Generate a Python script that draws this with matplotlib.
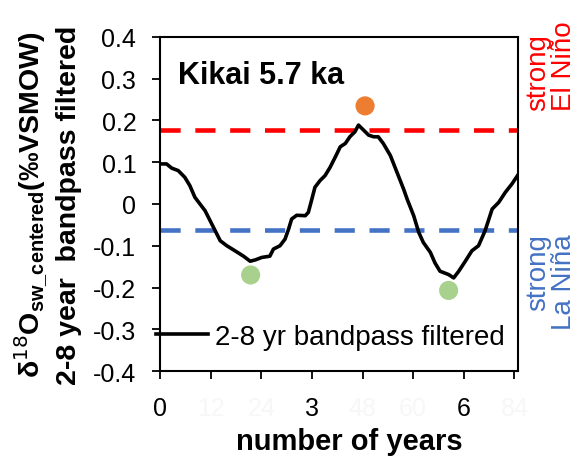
import matplotlib
matplotlib.use("Agg")
import matplotlib.pyplot as plt

plt.rcParams['font.family'] = ['Liberation Sans', 'DejaVu Sans']

# 2-8 yr bandpass filtered d18O_sw (centered), Kikai 5.7 ka
years = [0.03, 0.13, 0.23, 0.36, 0.49, 0.59, 0.69, 0.79, 0.89, 0.99, 1.09, 1.19,
         1.32, 1.48, 1.65, 1.78, 1.88, 2.01, 2.17, 2.24, 2.37, 2.47, 2.54, 2.60,
         2.70, 2.87, 2.93, 3.00, 3.06, 3.16, 3.26, 3.36, 3.46, 3.56, 3.66, 3.75,
         3.85, 3.92, 4.02, 4.12, 4.22, 4.31, 4.41, 4.55, 4.68, 4.81, 4.88, 5.01,
         5.11, 5.20, 5.34, 5.43, 5.53, 5.70, 5.80, 5.90, 6.03, 6.16, 6.29, 6.42,
         6.56, 6.69, 6.82, 6.95, 7.06]
d18o_filtered = [0.096, 0.096, 0.086, 0.080, 0.064, 0.044, 0.016, 0.000, -0.016, -0.040,
                 -0.064, -0.088, -0.100, -0.112, -0.125, -0.137, -0.134, -0.128, -0.125,
                 -0.108, -0.100, -0.084, -0.060, -0.036, -0.027, -0.028, -0.020, 0.012,
                 0.040, 0.056, 0.068, 0.088, 0.112, 0.137, 0.145, 0.161, 0.173, 0.189,
                 0.177, 0.165, 0.161, 0.161, 0.145, 0.116, 0.076, 0.036, 0.012, -0.028,
                 -0.068, -0.092, -0.116, -0.141, -0.161, -0.169, -0.177, -0.161, -0.137,
                 -0.112, -0.100, -0.064, -0.012, 0.004, 0.028, 0.048, 0.068]

# marked extreme events
elnino_x = [4.05]
elnino_y = [0.235]
lanina_x = [1.79, 5.70]
lanina_y = [-0.170, -0.207]

# thresholds for strong events
strong_elnino = 0.178
strong_lanina = -0.063

x_ticks = [0, 1, 2, 3, 4, 5, 6, 7]
x_ticklabels = ['0', '12', '24', '3', '48', '60', '6', '84']
x_faint = [False, True, True, False, True, True, False, True]
y_ticks = [-0.4, -0.3, -0.2, -0.1, 0, 0.1, 0.2, 0.3, 0.4]
y_ticklabels = ['-0.4', '-0.3', '-0.2', '-0.1', '0', '0.1', '0.2', '0.3', '0.4']

fig = plt.figure(figsize=(5.83, 4.6), dpi=100)
ax = fig.add_axes([0.2744, 0.1913, 0.6141, 0.7261])

ax.axhline(strong_elnino, color='#FF0000', lw=3.3, dashes=(4.4, 3.2))
ax.axhline(strong_lanina, color='#4472C4', lw=3.3, dashes=(4.4, 3.2))

line, = ax.plot(years, d18o_filtered, color='black', lw=2.6,
                label='2-8 yr bandpass filtered')
ax.scatter(elnino_x, elnino_y, s=190, color='#ED7D31', edgecolors='none', zorder=3)
ax.scatter(lanina_x, lanina_y, s=190, color='#A9D18E', edgecolors='none', zorder=3)

ax.set_xlim(0, 7.07)
ax.set_ylim(-0.4, 0.4)
ax.set_xticks(x_ticks)
ax.set_xticklabels(x_ticklabels)
ax.set_yticks(y_ticks)
ax.set_yticklabels(y_ticklabels)
ax.tick_params(axis='both', labelsize=18, length=6, width=1.3, direction='out')
ax.tick_params(axis='y', pad=11)
ax.tick_params(axis='x', pad=12)
for lab, faint in zip(ax.get_xticklabels(), x_faint):
    if faint:
        lab.set_color('#f7f7f7')
for s in ax.spines.values():
    s.set_linewidth(1.5)

ax.set_xlabel('number of years', fontsize=21, fontweight='bold', labelpad=5)
ax.xaxis.label.set_x(0.528)
ax.set_ylabel('δ$^{18}$O$_{\\mathregular{sw\\_centered}}$(‰VSMOW)\n2-8 year  bandpass filtered',
              fontsize=20.5, fontweight='bold', linespacing=1.3, labelpad=8)

ax.text(0.05, 0.885, 'Kikai 5.7 ka', transform=ax.transAxes, fontsize=22,
        fontweight='bold', ha='left', va='center')

ax.legend(handles=[line], loc='center left', bbox_to_anchor=(-0.01, 0.103),
          frameon=False, fontsize=20, handlelength=1.85, handletextpad=0.25,
          borderpad=0.0, borderaxespad=0.0)

fig.text(0.945, 0.857, 'strong\nEl Niño', rotation=90, color='#FF0000', fontsize=20,
         ha='center', va='center', multialignment='left', linespacing=1.0)
fig.text(0.945, 0.387, 'strong\nLa Niña', rotation=90, color='#4472C4', fontsize=20,
         ha='center', va='center', multialignment='right', linespacing=1.0)

fig.savefig('out.png', dpi=100)
